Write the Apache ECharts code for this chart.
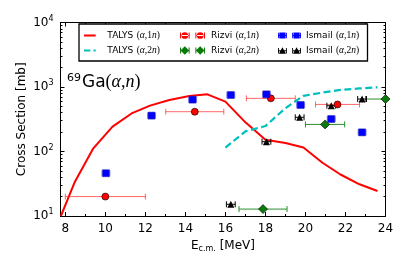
<!DOCTYPE html>
<html><head><meta charset="utf-8">
<script src="https://cdn.jsdelivr.net/npm/echarts@6/dist/echarts.min.js"></script>
<style>html,body{margin:0;padding:0;background:#fff}#c{width:407px;height:271px}</style>
</head><body><div id="c"></div>
<script>
// ---- data ----
const talys1nX = [7.78, 8.48, 9.4, 10.36, 11.31, 12.23, 13.2, 14.2, 15.1, 16.0, 17.0, 18.0, 19.0, 19.9, 20.85, 21.75, 22.7, 23.6];
const talys1nY = [10, 34, 112, 243, 389, 515, 630, 725, 770, 593, 283, 152, 135, 115, 67, 44, 31, 24.4];
const talys2nX = [16.0, 17.0, 18.0, 19.0, 19.9, 20.85, 21.75, 22.7, 23.6];
const talys2nY = [115, 205, 248, 470, 730, 820, 900, 950, 990];
const rizvi1nX = [10.0, 14.47, 18.27, 21.6];
const rizvi1nY = [20, 414, 667, 537];
const rizvi1nErr = [2.0, 1.45, 1.22, 1.1];
const rizvi2nX = [17.88, 20.98, 24.0];
const rizvi2nY = [12.8, 263, 651];
const rizvi2nErr = [1.2, 0.98, 1.0];
const ismail1nX = [10.03, 12.31, 14.36, 16.27, 18.05, 19.76, 21.29, 22.83];
const ismail1nY = [46, 360, 637, 751, 769, 526, 319, 198];
const ismail1nErr = [0.2, 0.2, 0.2, 0.2, 0.2, 0.2, 0.2, 0.2];
const ismail2nX = [16.27, 18.05, 19.71, 21.29, 22.83];
const ismail2nY = [15.2, 142, 339, 513, 651];
const ismail2nErr = [0.22, 0.22, 0.22, 0.22, 0.22];
const xMajor = [8, 10, 12, 14, 16, 18, 20, 22, 24];
const xMinor = [9, 11, 13, 15, 17, 19, 21, 23];
const yMinorExp = [];
[1, 2, 3].forEach(d => { for (let k = 2; k <= 9; k++) yMinorExp.push(d + Math.log10(k)); });

const NAMES = ['TALYS (α,1n)', 'TALYS (α,2n)', 'Rizvi (α,1n)', 'Rizvi (α,2n)', 'Ismail (α,1n)', 'Ismail (α,2n)'];

const pts = (xs, ys) => xs.map((x, i) => [x, ys[i]]);
const errPts = (xs, ys, es) => xs.map((x, i) => [x, ys[i], es[i]]);

function errRender(color) {
  return function (params, api) {
    const x = api.value(0), y = api.value(1), e = api.value(2);
    const p0 = api.coord([x - e, y]), p1 = api.coord([x + e, y]);
    const cap = 3;
    const st = { stroke: color, lineWidth: 1 };
    return { type: 'group', children: [
      { type: 'line', shape: { x1: p0[0], y1: p0[1], x2: p1[0], y2: p1[1] }, style: st },
      { type: 'line', shape: { x1: p0[0], y1: p0[1] - cap, x2: p0[0], y2: p0[1] + cap }, style: st },
      { type: 'line', shape: { x1: p1[0], y1: p1[1] - cap, x2: p1[0], y2: p1[1] + cap }, style: st }
    ]};
  };
}

// legend icons
function bars(w) {
  return 'M0,4.5h10v1h-10z M0,2h1v6h-1z M9,2h1v6h-1z M' + (w - 10) + ',4.5h10v1h-10z M' + (w - 10) + ',2h1v6h-1z M' + (w - 1) + ',2h1v6h-1z';
}
const W = 26;
const iconCircle = 'path://' + bars(W) + ' M1.5,5a3.5,3.5 0 1,0 7,0a3.5,3.5 0 1,0 -7,0 M' + (W - 8.5) + ',5a3.5,3.5 0 1,0 7,0a3.5,3.5 0 1,0 -7,0';
const iconDiamond = 'path://' + bars(W) + ' M5,0.5L9.5,5L5,9.5L0.5,5z M' + (W - 5) + ',0.5L' + (W - 0.5) + ',5L' + (W - 5) + ',9.5L' + (W - 9.5) + ',5z';
const iconSquare = 'path://' + bars(W) + ' M1.5,1.5h7v7h-7z M' + (W - 8.5) + ',1.5h7v7h-7z';
const iconTri = 'path://' + bars(W) + ' M5,1L9,8.5L1,8.5z M' + (W - 5) + ',1L' + (W - 1) + ',8.5L' + (W - 9) + ',8.5z';
const iconSolid = 'path://M0,4h13v2h-13z M0,0h0.01v0.01h-0.01z M0,9.99h0.01v0.01h-0.01z';
const iconDash = 'path://M0,4h7v2h-7z M10.5,4h2.5v2h-2.5z M0,0h0.01v0.01h-0.01z M0,9.99h0.01v0.01h-0.01z';

const legendRich = {
  t: { fontFamily: 'DejaVu Sans', fontSize: 9, color: '#000' },
  m: { fontFamily: 'Liberation Serif', fontSize: 9.5, color: '#000' },
  i: { fontFamily: 'Liberation Serif', fontStyle: 'italic', fontSize: 9.5, color: '#000' }
};
function legendFmt(name) {
  const base = name.split(' ')[0];
  const n = name.indexOf('1n') >= 0 ? '1' : '2';
  return '{t|' + base + '} {m|(}{i|α}{m|,' + n + '}{i|n}{m|)}';
}
function mkLegend(left, names, iw, pad, icons) {
  return {
    orient: 'vertical', left: left, top: 29.5, padding: 0, itemGap: 3,
    itemWidth: iw, itemHeight: 9,
    data: names.map((n, k) => ({ name: n, icon: icons[k], itemStyle: { borderWidth: 0 } })),
    formatter: legendFmt,
    textStyle: { padding: [0, 0, 0, pad], lineHeight: 12, rich: legendRich },
    selectedMode: false
  };
}

const axBase = { min: 7.76, max: 24, type: 'value', gridIndex: 0, splitLine: { show: false } };
const yBase = { type: 'log', logBase: 10, min: 10, max: 10000, gridIndex: 0, splitLine: { show: false } };
const yExpBase = { type: 'value', min: 1, max: 4, gridIndex: 0, splitLine: { show: false } };
const lineBlack = { show: true, lineStyle: { color: '#000', width: 1 } };

const chart = echarts.init(document.getElementById('c'), null, { renderer: 'canvas' });
chart.setOption({
  animation: false,
  backgroundColor: '#fff',
  grid: { left: 60.5, right: 21.5, top: 22.5, bottom: 55, containLabel: false },
  title: {
    left: 67, top: 73, padding: 0,
    text: '{s|69}{g|Ga}{m|(}{i|α}{m|,}{i|n}{m|)}',
    textStyle: { fontWeight: 'normal', rich: {
      s: { fontFamily: 'DejaVu Sans', fontWeight: 'normal', fontSize: 11, color: '#000', padding: [0, 1, 8, 0] },
      g: { fontFamily: 'DejaVu Sans', fontWeight: 'normal', fontSize: 17, color: '#000' },
      m: { fontFamily: 'Liberation Serif', fontWeight: 'normal', fontSize: 18, color: '#000' },
      i: { fontFamily: 'Liberation Serif', fontWeight: 'normal', fontStyle: 'italic', fontSize: 18, color: '#000' }
    } }
  },
  legend: [
    mkLegend(84, [NAMES[0], NAMES[1]], 13, 6, [iconSolid, iconDash]),
    mkLegend(180, [NAMES[2], NAMES[3]], 25, 1, [iconCircle, iconDiamond]),
    mkLegend(278, [NAMES[4], NAMES[5]], 23, 0, [iconSquare, iconTri])
  ],
  graphic: [{
    type: 'rect', z: 1, shape: { x: 79, y: 24, width: 288.5, height: 37 },
    style: { fill: '#fff', stroke: '#000', lineWidth: 1.3 }
  }],
  xAxis: [
    Object.assign({}, axBase, {
      position: 'bottom', axisLine: lineBlack,
      axisTick: { inside: true, length: 4, customValues: xMajor, lineStyle: { color: '#000' } },
      axisLabel: { customValues: xMajor, margin: 7, color: '#000', fontFamily: 'DejaVu Sans', fontSize: 12 },
      name: '{e|E}{s|c.m.}{e| [MeV]}', nameLocation: 'middle', nameGap: 23, nameMoveOverlap: false,
      nameTextStyle: { rich: {
        e: { fontFamily: 'DejaVu Sans', fontSize: 12, color: '#000' },
        s: { fontFamily: 'DejaVu Sans', fontSize: 8, color: '#000', padding: [6, 0, 0, 0] }
      } }
    }),
    Object.assign({}, axBase, {
      position: 'bottom', axisLine: { show: false },
      axisTick: { inside: true, length: 2, customValues: xMinor, lineStyle: { color: '#000' } },
      axisLabel: { show: false }
    }),
    Object.assign({}, axBase, {
      position: 'top', axisLine: lineBlack,
      axisTick: { inside: true, length: 4, customValues: xMajor, lineStyle: { color: '#000' } },
      axisLabel: { show: false }
    }),
    Object.assign({}, axBase, {
      position: 'top', axisLine: { show: false },
      axisTick: { inside: true, length: 2, customValues: xMinor, lineStyle: { color: '#000' } },
      axisLabel: { show: false }
    })
  ],
  yAxis: [
    Object.assign({}, yBase, {
      position: 'left', axisLine: lineBlack,
      axisTick: { inside: true, length: 4, lineStyle: { color: '#000' } },
      axisLabel: {
        margin: 7,
        formatter: v => '{b|10}{p|' + Math.round(Math.log10(v)) + '}',
        rich: {
          b: { fontFamily: 'DejaVu Sans', fontSize: 12, color: '#000' },
          p: { fontFamily: 'DejaVu Sans', fontSize: 8, color: '#000', padding: [0, 0, 8, 0] }
        }
      },
      name: 'Cross Section [mb]', nameLocation: 'middle', nameGap: 33, nameMoveOverlap: false,
      nameTextStyle: { fontFamily: 'DejaVu Sans', fontSize: 12, color: '#000' }
    }),
    Object.assign({}, yExpBase, {
      position: 'left', axisLine: { show: false },
      axisTick: { inside: true, length: 2, customValues: yMinorExp, lineStyle: { color: '#000' } },
      axisLabel: { show: false }
    }),
    Object.assign({}, yBase, {
      position: 'right', axisLine: lineBlack,
      axisTick: { inside: true, length: 4, lineStyle: { color: '#000' } },
      axisLabel: { show: false }
    }),
    Object.assign({}, yExpBase, {
      position: 'right', axisLine: { show: false },
      axisTick: { inside: true, length: 2, customValues: yMinorExp, lineStyle: { color: '#000' } },
      axisLabel: { show: false }
    })
  ],
  series: [
    { name: NAMES[0], type: 'line', data: pts(talys1nX, talys1nY), symbol: 'none', clip: true, z: 2,
      lineStyle: { color: '#ff0000', width: 2 }, itemStyle: { color: '#ff0000' } },
    { name: NAMES[1], type: 'line', data: pts(talys2nX, talys2nY), symbol: 'none', clip: true, z: 2,
      lineStyle: { color: '#00bfbf', width: 2.2, type: [7, 3.5] }, itemStyle: { color: '#00bfbf' } },
    { type: 'custom', renderItem: errRender('rgba(255,40,40,0.7)'), data: errPts(rizvi1nX, rizvi1nY, rizvi1nErr), clip: true, z: 3, encode: { x: 0, y: 1 } },
    { type: 'custom', renderItem: errRender('#2a8f2a'), data: errPts(rizvi2nX, rizvi2nY, rizvi2nErr), clip: true, z: 3, encode: { x: 0, y: 1 } },
    { type: 'custom', renderItem: errRender('rgba(60,60,255,0.55)'), data: errPts(ismail1nX, ismail1nY, ismail1nErr), clip: true, z: 3, encode: { x: 0, y: 1 } },
    { type: 'custom', renderItem: errRender('#000'), data: errPts(ismail2nX, ismail2nY, ismail2nErr), clip: true, z: 3, encode: { x: 0, y: 1 } },
    { name: NAMES[2], type: 'scatter', data: pts(rizvi1nX, rizvi1nY), symbol: 'circle', symbolSize: 7, z: 4,
      itemStyle: { color: '#ff0000', borderColor: '#000', borderWidth: 0.6, opacity: 1 } },
    { name: NAMES[3], type: 'scatter', data: pts(rizvi2nX, rizvi2nY), symbol: 'diamond', symbolSize: [9, 9], z: 4,
      itemStyle: { color: '#0a7a0a', borderColor: '#000', borderWidth: 0.6, opacity: 1 } },
    { name: NAMES[4], type: 'scatter', data: pts(ismail1nX, ismail1nY), symbol: 'rect', symbolSize: 7, z: 4,
      itemStyle: { color: '#0000ff', borderColor: '#2020a0', borderWidth: 0.5, opacity: 1 } },
    { name: NAMES[5], type: 'scatter', data: pts(ismail2nX, ismail2nY), symbol: 'triangle', symbolSize: 7, z: 4,
      itemStyle: { color: '#000', opacity: 1 } }
  ]
});
</script>
</body></html>
